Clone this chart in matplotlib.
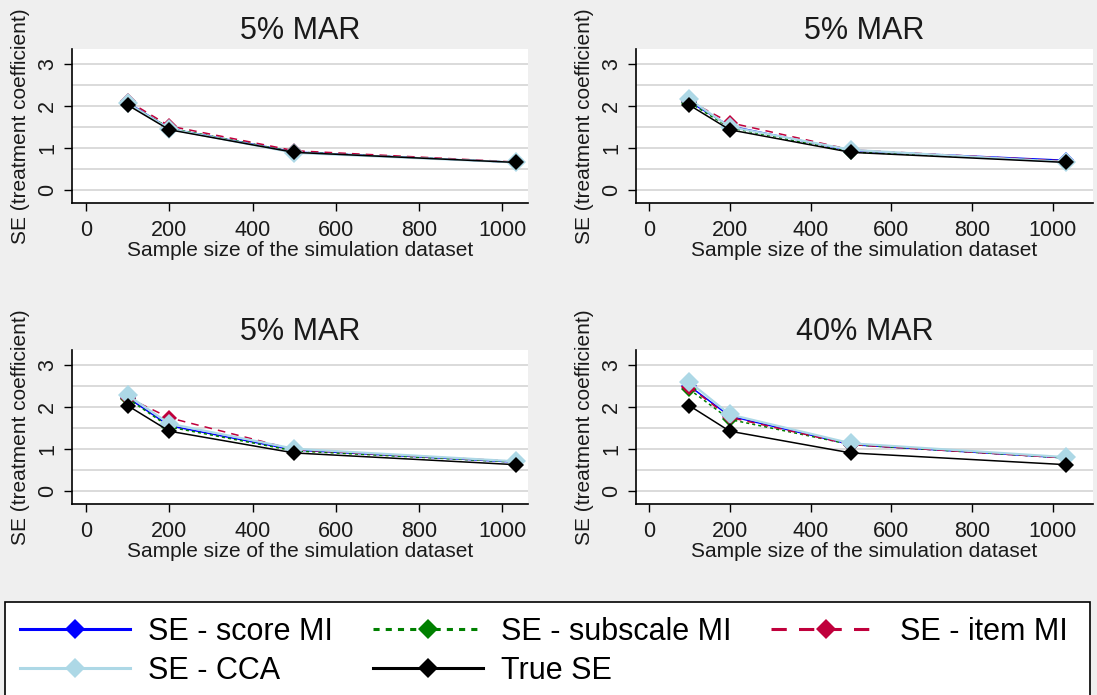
import matplotlib
matplotlib.use("Agg")
import matplotlib.pyplot as plt
from matplotlib.lines import Line2D
from matplotlib.patches import Rectangle
from matplotlib.ticker import MultipleLocator

plt.rcParams['font.family'] = ['Liberation Sans', 'DejaVu Sans']

# data
sample_size = [100, 200, 500, 1032]
panel_titles = ["5% MAR", "5% MAR", "5% MAR", "40% MAR"]

se_score_mi = [
    [2.08, 1.46, 0.90, 0.65],
    [2.10, 1.52, 0.93, 0.70],
    [2.22, 1.55, 0.97, 0.68],
    [2.50, 1.78, 1.10, 0.78],
]
se_subscale_mi = [
    [2.07, 1.47, 0.90, 0.65],
    [2.08, 1.48, 0.90, 0.68],
    [2.20, 1.52, 0.95, 0.68],
    [2.42, 1.70, 1.10, 0.78],
]
se_item_mi = [
    [2.12, 1.52, 0.93, 0.66],
    [2.12, 1.60, 0.95, 0.68],
    [2.22, 1.74, 0.98, 0.70],
    [2.48, 1.75, 1.10, 0.78],
]
se_cca = [
    [2.06, 1.45, 0.88, 0.65],
    [2.16, 1.50, 0.95, 0.66],
    [2.28, 1.60, 1.00, 0.70],
    [2.60, 1.82, 1.13, 0.80],
]
true_se = [
    [2.02, 1.43, 0.89, 0.65],
    [2.02, 1.43, 0.89, 0.65],
    [2.03, 1.42, 0.90, 0.62],
    [2.03, 1.42, 0.90, 0.62],
]

W, H = 1097, 695
BG = '#efefef'
TXT = '#1a1a1a'

# series: (label, data, colour, linestyle, linewidth, markersize)
series = [
    ("SE - score MI", se_score_mi, '#0000ff', '-', 1.1, 8.5),
    ("SE - subscale MI", se_subscale_mi, '#008000', (0, (2, 2)), 1.1, 8.5),
    ("SE - item MI", se_item_mi, '#c0003c', (0, (5, 4)), 1.1, 8.5),
    ("SE - CCA", se_cca, '#add8e6', '-', 1.6, 10.5),
    ("True SE", true_se, '#000000', '-', 1.1, 8.5),
]

fig = plt.figure(figsize=(W / 100, H / 100), dpi=100, facecolor=BG)

# axes boxes in pixels: left, top, right, bottom
boxes = [(72, 49, 528, 203), (636, 49, 1093, 203),
         (72, 350, 528, 504), (636, 350, 1093, 504)]
xlims = [(-34, 1062), (-32, 1099), (-34, 1062), (-32, 1099)]

for i, (l, t, r, b) in enumerate(boxes):
    ax = fig.add_axes([l / W, 1 - b / H, (r - l) / W, (b - t) / H])
    ax.set_facecolor('white')
    for label, data, col, ls, lw, ms in series:
        ax.plot(sample_size, data[i], color=col, linestyle=ls, linewidth=lw,
                marker='D', markersize=ms, markeredgewidth=0)
    ax.set_xlim(*xlims[i])
    ax.set_ylim(-0.32, 3.36)
    ax.set_xticks([0, 200, 400, 600, 800, 1000])
    ax.set_yticks([0, 1, 2, 3])
    ax.yaxis.set_minor_locator(MultipleLocator(0.5))
    ax.grid(True, which='both', axis='y', color='#d8d8d8', linewidth=1.3)
    ax.set_axisbelow(True)
    ax.tick_params(axis='y', which='minor', length=0)
    ax.tick_params(axis='both', which='major', length=6, width=1.0,
                   labelsize=15.5, labelcolor=TXT, pad=4)
    ax.tick_params(axis='x', which='major', pad=6)
    for lab in ax.get_yticklabels():
        lab.set_rotation(90)
        lab.set_va('center')
    for s in ['top', 'right']:
        ax.spines[s].set_visible(False)
    for s in ['left', 'bottom']:
        ax.spines[s].set_linewidth(1.2)
    ax.set_title(panel_titles[i], fontsize=22, color=TXT, pad=7)
    ax.set_xlabel("Sample size of the simulation dataset", fontsize=15,
                  color=TXT, labelpad=0)
    ax.set_ylabel("SE (treatment coefficient)", fontsize=15, color=TXT,
                  labelpad=5)

# legend box
fig.patches.append(Rectangle((5 / W, -0.01), 1085 / W, 1 - 602 / H + 0.01,
                             transform=fig.transFigure, facecolor='white',
                             edgecolor='black', linewidth=1.2, zorder=0))

handles = []
for label, data, col, ls, lw, ms in series:
    handles.append(Line2D([], [], color=col, linestyle=ls, linewidth=2.2,
                          marker='D', markersize=10, markeredgewidth=0,
                          label=label))
# order so ncol=3 fills rows: score, subscale, item / CCA, True
order = [0, 3, 1, 4, 2]
fig.legend([handles[k] for k in order], [handles[k].get_label() for k in order],
           ncol=3, loc='upper left', bbox_to_anchor=(20 / W, 1 - 617 / H),
           frameon=False, fontsize=22, handlelength=3.6, handletextpad=0.6,
           columnspacing=1.3, labelspacing=0.3, borderpad=0, borderaxespad=0)

fig.savefig("out.png", dpi=100, facecolor=BG)
